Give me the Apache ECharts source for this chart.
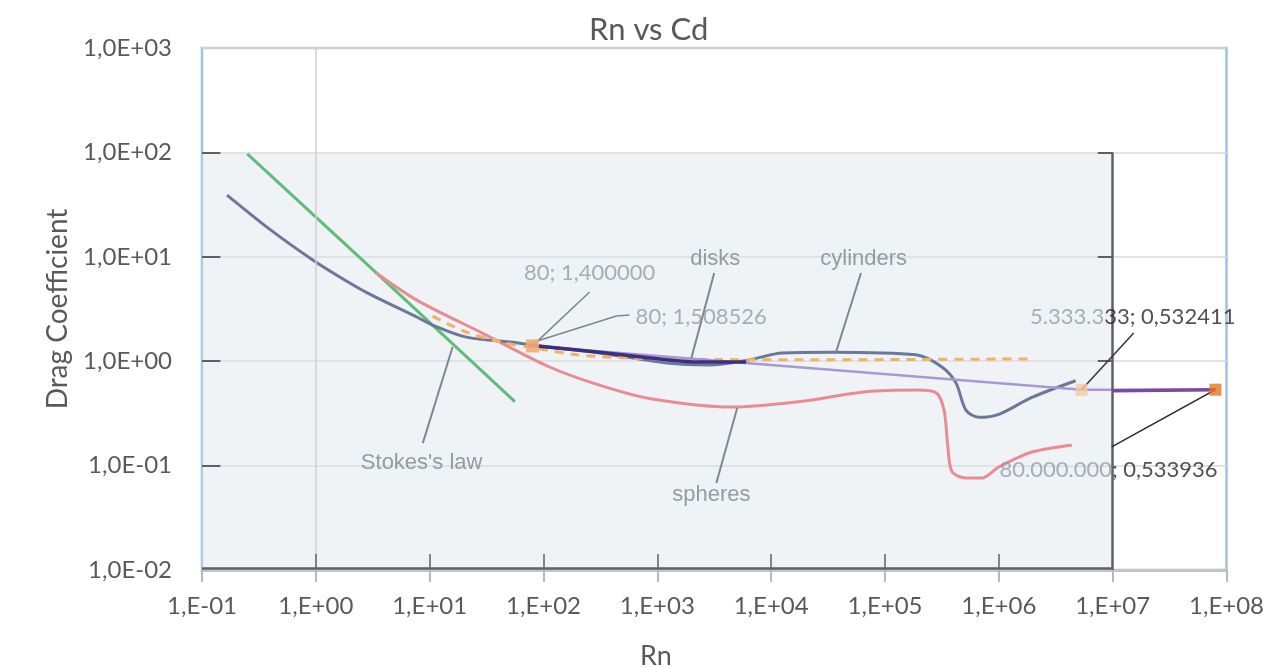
<!DOCTYPE html>
<html><head><meta charset="utf-8">
<script src="https://cdn.jsdelivr.net/npm/echarts@6/dist/echarts.min.js"></script>
<style>html,body{margin:0;padding:0;background:#fff}#c{width:1267px;height:667px}</style>
</head><body><div id="c"></div>
<script>
// ---- tick labels ----
const xTickLabels = ['1,E-01','1,E+00','1,E+01','1,E+02','1,E+03','1,E+04','1,E+05','1,E+06','1,E+07','1,E+08'];
const yTickLabels = ['1,0E-02','1,0E-01','1,0E+00','1,0E+01','1,0E+02','1,0E+03'];

// ---- curves ----
const stokesLaw = [[0.25,97],[3.4,7.0],[56,0.41]];
const spheres = [[3.4,7.0],[7.7,3.85],[29,1.86],[113,0.88],[310,0.59],[850,0.44],[4550,0.364],[17600,0.41],[68000,0.51],[187000,0.53],[280000,0.50],[330000,0.34],[355000,0.16],[387000,0.088],[514000,0.076],[710000,0.076],[1000000,0.097],[1950000,0.135],[4370000,0.157]];
const cylinders = [[0.166,39],[0.395,18.3],[0.94,9.3],[1.62,6.4],[2.8,4.54],[7.7,2.65],[10.6,2.22],[21,1.7],[58,1.5],[80,1.42],[310,1.2],[1200,0.96],[2860,0.92],[6400,1.03],[12500,1.2],[34000,1.22],[187000,1.15],[316000,0.88],[420000,0.62],[514000,0.34],[668000,0.29],[1000000,0.31],[1950000,0.45],[4730000,0.65]];
const disks = [[71,1.43],[310,1.22],[1040,1.05],[2330,0.98],[6000,0.98]];

// ---- spreadsheet series ----
const dashedSeries = [[10.6,2.7],[21,1.9],[45,1.5],[80,1.35],[200,1.15],[600,1.07],[3000,1.04],[20000,1.03],[200000,1.04],[1830000,1.05]];
const trendLight = [[80,1.4],[5333333,0.532411],[80000000,0.533936]];
const trendDark = [[10000000,0.52],[80000000,0.533936]];
const pointA = [[80,1.4]];
const pointB = [[5333333,0.532411]];
const pointC = [[80000000,0.533936]];

// ---- annotation texts ----
const figLabels = [
  {value:[8.5,0.106], t:"Stokes's law"},
  {value:[2980,0.052], t:'spheres'},
  {value:[3230,9.5], t:'disks'},
  {value:[65000,9.5], t:'cylinders'}
];
const dataLabels = [
  {value:[254,7.0], t:'{a|80; 1,400000}'},
  {value:[2430,2.65], t:'{a|80; 1,508526}'},
  {value:[1.5e7,2.67], t:'{a|5.333.3}{b|33; 0,532411}'},
  {value:[9.2e6,0.0908], t:'{a|80.000.000}{b|; 0,533936}'}
];

const figLeaders = [
  [[8.7,0.164],[15.9,1.37]],
  [[3300,0.068],[5030,0.356]],
  [[3160,7.0],[1990,1.07]],
  [[61500,7.0],[37100,1.22]]
];
const dataLeaders = [
  [[254,4.6],[80,1.4],'#7d8791'],
  [[568,2.77],[437,2.71],'#7d8791'],
  [[437,2.71],[80,1.508526],'#7d8791'],
  [[1.53e7,1.86],[5333333,0.532411],'#3a3a3a'],
  [[9.8e6,0.151],[80000000,0.533936],'#2a2a2a']
];

// ---- frame of the embedded figure (data coordinates) ----
const frameDark = '#5c6168';
const frameLines = [];
function seg(a,b,color,width){frameLines.push([{coord:a,lineStyle:{color:color,width:width,type:'solid'}},{coord:b}]);}
seg([1,0.01],[1,1000],'#cdd0d4',1.5);
seg([1e7,0.01],[1e7,100],frameDark,2.5);
seg([0.1,0.0105],[1e7,0.0105],frameDark,2.5);
[1,10,100,1000,1e4,1e5,1e6].forEach(v=>seg([v,0.0105],[v,0.0142],frameDark,1.5));
[100,10,1,0.1].forEach(v=>seg([0.1,v],[0.145,v],frameDark,2));
[100,10,1].forEach(v=>seg([7.4e6,v],[1e7,v],frameDark,2));

function lineSeries(name,data,color,width,z,extra){
  return Object.assign({name:name,type:'line',data:data,symbol:'none',z:z,
    smooth:0.3,
    lineStyle:{color:color,width:width},silent:true},extra||{});
}

const exp10 = v => Math.round(Math.log10(v));
const font = 'Lato';

const option = {
  animation:false,
  title:[
    {text:'Rn vs Cd',left:584,top:9,textStyle:{fontFamily:font,fontSize:31,fontWeight:'normal',color:'#595959'}},
    {text:'Rn',left:635,top:638,textStyle:{fontFamily:font,fontSize:27,fontWeight:'normal',color:'#595959'}}
  ],
  grid:{left:202,right:39,top:48,bottom:97,show:true,borderColor:'#a3c2df',borderWidth:2.5,backgroundColor:'#ffffff'},
  xAxis:{type:'log',logBase:10,min:0.1,max:1e8,splitNumber:10,
    axisLine:{show:true,onZero:false,lineStyle:{color:'#c4c4c4',width:3}},
    axisTick:{show:true,length:12,lineStyle:{color:'#b8b8b8',width:2}},
    minorTick:{show:false},
    splitLine:{show:false},
    axisLabel:{formatter:v=>xTickLabels[exp10(v)+1],fontFamily:font,fontSize:24,color:'#595959',margin:24}
  },
  yAxis:{type:'log',logBase:10,min:0.01,max:1000,splitNumber:5,
    name:'Drag Coefficient',nameLocation:'middle',nameGap:130,
    nameTextStyle:{fontFamily:font,fontSize:28,color:'#595959'},
    axisLine:{show:false},axisTick:{show:false},minorTick:{show:false},
    splitLine:{show:true,lineStyle:{color:'#d9d9d9',width:1.5}},
    axisLabel:{formatter:v=>yTickLabels[exp10(v)+2],fontFamily:font,fontSize:24,color:'#595959',margin:30}
  },
  series:[
    {name:'figure-bg',type:'line',data:[[0.1,0.01]],symbol:'none',z:1,silent:true,lineStyle:{width:0},
      markArea:{silent:true,itemStyle:{color:'rgba(220,228,236,0.45)'},data:[[{coord:[0.1,0.01]},{coord:[1e7,100]}]]}},
    {name:'figure-frame',type:'line',data:[[1e7,0.01]],symbol:'none',z:2,silent:true,lineStyle:{width:0},
      markLine:{silent:true,symbol:['none','none'],label:{show:false},animation:false,data:frameLines}},
    lineSeries("Stokes's law",stokesLaw,'#5fbd7b',3,3,{smooth:false}),
    lineSeries('spheres',spheres,'#ea8b94',3,3),
    lineSeries('cylinders',cylinders,'#6b7899',3,3),
    lineSeries('dashed',dashedSeries,'#f2b35f',3,4,{lineStyle:{color:'#f2b35f',width:3,type:[9,7]}}),
    lineSeries('trend light',trendLight,'#a897d2',2.5,4,{smooth:false}),
    lineSeries('disks',disks,'#3c2f82',3.5,5),
    lineSeries('trend dark',trendDark,'#7a4aa3',3.5,5,{smooth:false}),
    {name:'leaders',type:'line',data:[[0.1,0.01]],symbol:'none',z:5,silent:true,lineStyle:{width:0},
      markLine:{silent:true,symbol:['none','none'],label:{show:false},animation:false,
        data:figLeaders.map(l=>[{coord:l[0],lineStyle:{color:'#7f8891',width:2,type:'solid'}},{coord:l[1]}])
          .concat(dataLeaders.map(l=>[{coord:l[0],lineStyle:{color:l[2],width:1.6,type:'solid'}},{coord:l[1]}]))}},
    {name:'A',type:'scatter',data:pointA,symbol:'rect',symbolSize:13,z:6,itemStyle:{color:'#efad78',opacity:0.9}},
    {name:'B',type:'scatter',data:pointB,symbol:'rect',symbolSize:12,z:6,itemStyle:{color:'#f6c8a2'}},
    {name:'C',type:'scatter',data:pointC,symbol:'rect',symbolSize:12,z:6,itemStyle:{color:'#e8721f'}},
    {name:'fig labels',type:'scatter',data:figLabels,symbolSize:1,z:7,silent:true,itemStyle:{color:'rgba(0,0,0,0)'},
      label:{show:true,position:'inside',formatter:p=>p.data.t,fontFamily:'Liberation Sans',fontSize:22,color:'#7d868f'}},
    {name:'data labels',type:'scatter',data:dataLabels,symbolSize:1,z:7,silent:true,itemStyle:{color:'rgba(0,0,0,0)'},
      label:{show:true,position:'inside',formatter:p=>p.data.t,
        rich:{a:{fontFamily:font,fontSize:22,color:'#919ca7'},b:{fontFamily:font,fontSize:22,color:'#262626'}}}}
  ]
};
const chart = echarts.init(document.getElementById('c'),null,{renderer:'canvas'});
chart.setOption(option);
</script></body></html>
